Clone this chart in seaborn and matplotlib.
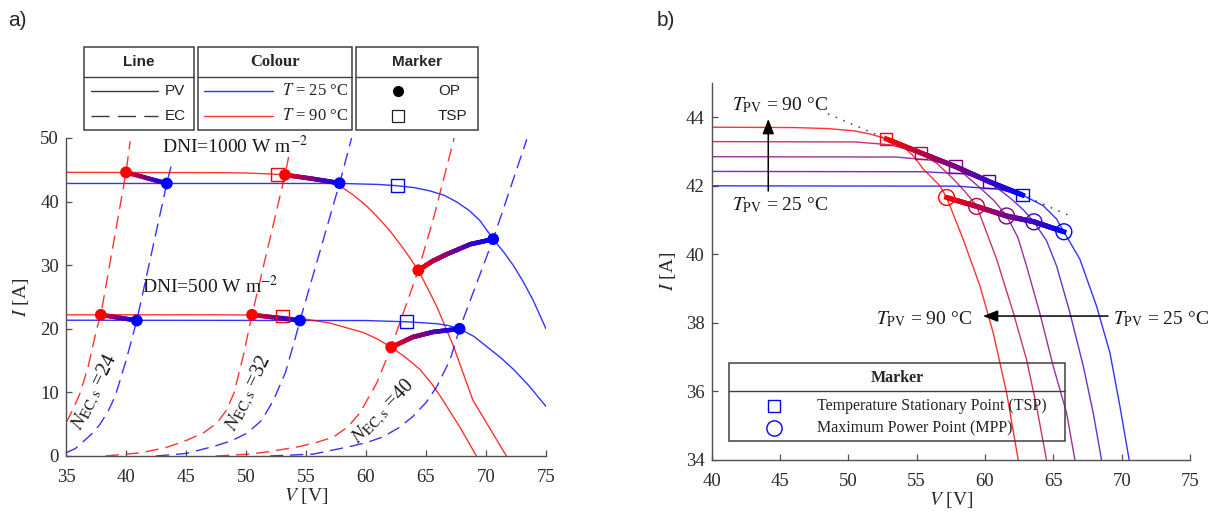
import numpy as np
import matplotlib
matplotlib.use("Agg")
import matplotlib.pyplot as plt
import seaborn as sns
from matplotlib.collections import LineCollection
from matplotlib.patches import Rectangle
from matplotlib.lines import Line2D

# ------------------------------------------------------------------ data (panel a)
# PV I-V curves, DNI = 1000 W m-2
pv1000_25_V = [35, 58, 61, 62.6, 64.0, 65.3, 66.5, 67.6, 68.6, 69.5, 70.6, 71.5, 72.3, 73.1, 73.9, 75]
pv1000_25_I = [42.85, 42.85, 42.7, 42.5, 42.2, 41.7, 41.0, 39.9, 38.6, 37.0, 34.1, 32.0, 29.9, 27.4, 24.6, 20.0]
pv1000_90_V = [35, 48, 50, 52, 53.25, 54.4, 55.5, 56.7, 57.8, 58.9, 60.06, 61.0, 62.0, 63.2, 64.36, 65.1, 65.9, 67.3, 68.9, 70.3, 71.7]
pv1000_90_I = [44.6, 44.55, 44.5, 44.35, 44.2, 43.95, 43.6, 43.1, 42.5, 41.1, 39.3, 37.5, 35.4, 32.4, 29.2, 26.5, 23.5, 17.2, 8.8, 4.4, 0.0]
# PV I-V curves, DNI = 500 W m-2
pv500_25_V = [35, 60, 63.4, 65.9, 66.9, 67.8, 69.0, 70.06, 71.2, 72.3, 73.6, 75]
pv500_25_I = [21.35, 21.3, 21.1, 20.8, 20.5, 20.0, 18.8, 17.2, 15.5, 13.6, 11.0, 7.8]
pv500_90_V = [35, 48, 50.5, 52.8, 55.0, 57.0, 59.8, 61.0, 62.1, 63.3, 64.5, 65.5, 66.4, 67.8, 69.2]
pv500_90_I = [22.2, 22.2, 22.15, 22.0, 21.5, 20.9, 19.4, 18.35, 17.1, 15.5, 13.6, 11.3, 8.8, 4.6, 0.0]

# EC polarisation curves (N_EC,s = 24, 32, 40)
ec24_25_V = [35, 35.8, 36.4, 37.1, 37.8, 38.5, 39.1, 40.0, 40.9, 43.4, 43.75]
ec24_25_I = [0.5, 1.2, 2.2, 3.4, 4.9, 7.0, 9.4, 15.0, 21.3, 42.85, 45.5]
ec24_90_V = [35, 35.6, 36.2, 36.85, 37.55, 37.9, 40.0, 40.35]
ec24_90_I = [5.2, 7.4, 10.0, 14.1, 19.9, 22.2, 44.6, 49.5]
ec32_25_V = [42.5, 45.0, 47.3, 48.8, 50.1, 51.3, 52.3, 53.3, 54.1, 54.5, 57.8, 58.8]
ec32_25_I = [0.0, 0.4, 1.5, 2.4, 3.6, 5.6, 8.8, 13.2, 18.5, 21.3, 42.9, 50.0]
ec32_90_V = [38.3, 41.2, 43.3, 45.1, 46.5, 47.6, 48.4, 49.0, 49.8, 50.5, 53.25, 53.55]
ec32_90_I = [0.0, 0.5, 1.3, 2.5, 3.7, 5.2, 7.3, 9.9, 16.0, 22.2, 44.2, 47.0]
ec40_25_V = [52.0, 55.6, 58.7, 60.2, 61.4, 62.7, 63.9, 65.0, 65.9, 67.0, 67.8, 70.6, 73.4]
ec40_25_I = [0.0, 0.3, 1.5, 2.2, 3.0, 4.4, 6.2, 8.4, 10.9, 15.1, 20.0, 34.1, 49.8]
ec40_90_V = [47.5, 50.3, 52.0, 54.5, 56.0, 57.3, 58.5, 59.5, 60.9, 62.1, 64.36, 65.6, 67.35]
ec40_90_I = [0.0, 0.3, 0.7, 1.5, 2.2, 3.0, 4.6, 6.8, 11.5, 17.1, 29.2, 37.2, 50.0]

# operating points (OP)
op1000_90_V = [40.0, 53.25, 64.36]
op1000_90_I = [44.6, 44.2, 29.2]
op1000_25_V = [43.4, 57.8, 70.6]
op1000_25_I = [42.85, 42.9, 34.1]
op500_90_V = [37.9, 50.5, 62.1]
op500_90_I = [22.2, 22.2, 17.1]
op500_25_V = [40.9, 54.5, 67.8]
op500_25_I = [21.3, 21.3, 20.0]
# temperature stationary points (TSP)
tspA_90_V = [52.6, 53.05]
tspA_90_I = [44.2, 22.0]
tspA_25_V = [62.6, 63.4]
tspA_25_I = [42.5, 21.1]
# OP trajectories from 90 degC to 25 degC
trajA_V = [[40.0, 43.4], [53.25, 55.5, 57.8], [64.36, 65.5, 66.7, 68.7, 70.6],
           [37.9, 40.9], [50.5, 54.5], [62.1, 63.9, 65.6, 67.8]]
trajA_I = [[44.6, 42.85], [44.2, 43.6, 42.9], [29.2, 30.6, 31.7, 33.3, 34.1],
           [22.2, 21.3], [22.2, 21.3], [17.1, 18.7, 19.5, 20.0]]

# ------------------------------------------------------------------ data (panel b)
T_pv = [25, 41.25, 57.5, 73.75, 90]
b_V = [
    [40, 58, 61, 62.75, 64.26, 65.24, 65.77, 66.94, 68.16, 69.14, 69.87, 70.55],
    [40, 55.5, 58.5, 60.31, 61.95, 62.8, 63.58, 64.5, 65.24, 66.21, 67.19, 67.92, 68.53],
    [40, 53.5, 56, 57.85, 59.75, 60.7, 61.58, 62.4, 63.04, 64.0, 64.99, 65.97, 66.58],
    [40, 50.5, 53, 55.31, 56.5, 57.68, 58.5, 59.38, 60.85, 62.07, 63.04, 63.77, 64.5],
    [40, 46, 48.5, 50.5, 51.7, 52.77, 53.77, 54.7, 55.48, 56.7, 57.19, 58.4, 59.63, 60.6, 61.58, 62.43],
]
b_I = [
    [42.0, 41.99, 41.9, 41.73, 41.42, 41.03, 40.66, 39.86, 38.49, 37.13, 35.57, 34.0],
    [42.42, 42.41, 42.35, 42.12, 41.61, 41.3, 40.95, 40.4, 39.66, 38.3, 36.74, 35.37, 34.0],
    [42.85, 42.84, 42.75, 42.56, 41.9, 41.55, 41.12, 40.5, 39.66, 38.3, 36.74, 35.37, 34.0],
    [43.29, 43.28, 43.2, 42.96, 42.65, 42.2, 41.85, 41.42, 39.86, 38.3, 36.93, 35.57, 34.0],
    [43.71, 43.70, 43.67, 43.6, 43.5, 43.37, 43.22, 42.9, 42.49, 42.0, 41.66, 40.44, 39.08, 37.71, 35.96, 34.0],
]
tspB_V = [62.75, 60.31, 57.85, 55.31, 52.77]
tspB_I = [41.73, 42.12, 42.56, 42.96, 43.37]
mppB_V = [65.77, 63.58, 61.58, 59.38, 57.19]
mppB_I = [40.66, 40.95, 41.12, 41.40, 41.66]
envB_V = [48.5, 52.77, 55.31, 57.85, 60.31, 62.75, 66.45]
envB_I = [44.1, 43.37, 42.96, 42.56, 42.12, 41.73, 41.08]

# ------------------------------------------------------------------ style
sns.set_style("ticks")
plt.rcParams["font.family"] = ["Liberation Serif", "DejaVu Serif"]
plt.rcParams["mathtext.fontset"] = "stix"

W, H = 1224, 513
RED = (1.0, 0.0, 0.0)
BLUE = (0.0, 0.0, 1.0)
AX_C = "#505050"
TXT_C = "#2a2a2a"
THIN_A = 0.8


def mix(t):
    """colour for temperature fraction t (0 = 25 degC blue, 1 = 90 degC red)"""
    return (t, 0.0, 1.0 - t)


def fx(x):
    return x / W


def fy(y):
    return 1 - y / H


def gradient(ax, xs, ys, c0, c1, lw, z=4, n=12):
    xs = np.asarray(xs, float)
    ys = np.asarray(ys, float)
    segs, cols = [], []
    d = np.r_[0, np.cumsum(np.hypot(np.diff(xs), np.diff(ys)))]
    d = d / d[-1]
    for i in range(len(xs) - 1):
        for k in range(n):
            a, b = k / n, (k + 1) / n
            p0 = (xs[i] + a * (xs[i + 1] - xs[i]), ys[i] + a * (ys[i + 1] - ys[i]))
            p1 = (xs[i] + b * (xs[i + 1] - xs[i]), ys[i] + b * (ys[i + 1] - ys[i]))
            f = d[i] + (a + b) / 2 * (d[i + 1] - d[i])
            segs.append([p0, p1])
            cols.append(tuple(np.array(c0) * (1 - f) + np.array(c1) * f))
    lc = LineCollection(segs, colors=cols, linewidths=lw, capstyle="projecting",
                        joinstyle="miter", zorder=z)
    ax.add_collection(lc)


def style_axes(ax):
    for s in ["top", "right"]:
        ax.spines[s].set_visible(False)
    for s in ["left", "bottom"]:
        ax.spines[s].set_color(AX_C)
        ax.spines[s].set_linewidth(1.0)
    ax.tick_params(direction="in", length=4, width=0.9, colors=AX_C,
                   labelcolor=TXT_C, labelsize=13.5)
    ax.tick_params(axis="x", pad=9)
    ax.tick_params(axis="y", pad=5)


fig = plt.figure(figsize=(12.24, 5.13), dpi=100)
axA = fig.add_axes([fx(66), fy(456), 480 / W, 318 / H])
axB = fig.add_axes([fx(711.7), fy(460), 478.3 / W, 377 / H])

# ------------------------------------------------------------------ panel a
pv_sets = [(pv1000_25_V, pv1000_25_I, BLUE), (pv1000_90_V, pv1000_90_I, RED),
           (pv500_25_V, pv500_25_I, BLUE), (pv500_90_V, pv500_90_I, RED)]
for v, i, c in pv_sets:
    sns.lineplot(x=v, y=i, ax=axA, color=c, lw=1.0, alpha=THIN_A, sort=False, estimator=None, zorder=2)

ec_sets = [(ec24_25_V, ec24_25_I, BLUE), (ec24_90_V, ec24_90_I, RED),
           (ec32_25_V, ec32_25_I, BLUE), (ec32_90_V, ec32_90_I, RED),
           (ec40_25_V, ec40_25_I, BLUE), (ec40_90_V, ec40_90_I, RED)]
for v, i, c in ec_sets:
    sns.lineplot(x=v, y=i, ax=axA, color=c, lw=1.0, alpha=THIN_A, sort=False, estimator=None, zorder=2)
    axA.lines[-1].set_dashes([9.5, 5])

for v, i in zip(trajA_V, trajA_I):
    gradient(axA, v, i, RED, BLUE, lw=3.2)

for v, i, c in [(op1000_90_V, op1000_90_I, RED), (op500_90_V, op500_90_I, RED),
                (op1000_25_V, op1000_25_I, BLUE), (op500_25_V, op500_25_I, BLUE)]:
    sns.scatterplot(x=v, y=i, ax=axA, color=c, s=72, edgecolor="none", zorder=6, legend=False)
axA.scatter(tspA_90_V, tspA_90_I, marker="s", s=85, facecolors="none", edgecolors=[RED], linewidths=1.0, zorder=5)
axA.scatter(tspA_25_V, tspA_25_I, marker="s", s=85, facecolors="none", edgecolors=[BLUE], linewidths=1.0, zorder=5)

axA.set_xlim(35, 75)
axA.set_ylim(0, 50)
axA.set_xticks(range(35, 80, 5))
axA.set_yticks(range(0, 60, 10))
style_axes(axA)
axA.set_xlabel(r"$V$ [V]", fontsize=14, color=TXT_C, labelpad=0)
axA.set_ylabel(r"$I$ [A]", fontsize=14, color=TXT_C, labelpad=7)

axA.text(43.0, 48.8, r"DNI=1000 W m$^{-2}$", fontsize=14, ha="left", va="center", color="#1a1a1a")
axA.text(41.3, 26.7, r"DNI=500 W m$^{-2}$", fontsize=14, ha="left", va="center", color="#1a1a1a")
axA.text(37.42, 10.1, r"$N_{\mathrm{EC,s}}$ =24", fontsize=14.5, rotation=64, ha="center", va="center",
         rotation_mode="anchor", color="#1a1a1a")
axA.text(50.2, 9.9, r"$N_{\mathrm{EC,s}}$ =32", fontsize=14.5, rotation=64, ha="center", va="center",
         rotation_mode="anchor", color="#1a1a1a")
axA.text(61.44, 7.0, r"$N_{\mathrm{EC,s}}$ =40", fontsize=14.5, rotation=46, ha="center", va="center",
         rotation_mode="anchor", color="#1a1a1a")

# ------------------------------------------------------------------ panel b
n = len(T_pv)
fr = [(t - T_pv[0]) / (T_pv[-1] - T_pv[0]) for t in T_pv]
for k in range(n):
    sns.lineplot(x=b_V[k], y=b_I[k], ax=axB, color=mix(fr[k]), lw=1.0, alpha=THIN_A, sort=False,
                 estimator=None, zorder=2)
sns.lineplot(x=envB_V, y=envB_I, ax=axB, color="#555555", lw=1.2, sort=False, estimator=None, zorder=1)
axB.lines[-1].set_dashes([1, 4])
gradient(axB, tspB_V[::-1], tspB_I[::-1], RED, BLUE, lw=3.6)
gradient(axB, mppB_V[::-1], mppB_I[::-1], RED, BLUE, lw=3.6)
cols = [mix(f) for f in fr]
axB.scatter(tspB_V, tspB_I, marker="s", s=80, facecolors="none", edgecolors=cols, linewidths=1.0, zorder=5)
axB.scatter(mppB_V, mppB_I, marker="o", s=130, facecolors="none", edgecolors=cols, linewidths=1.0, zorder=5)

axB.set_xlim(40, 75)
axB.set_ylim(34, 45)
axB.set_xticks(range(40, 80, 5))
axB.set_yticks(range(34, 46, 2))
style_axes(axB)
axB.set_xlabel(r"$V$ [V]", fontsize=14, color=TXT_C, labelpad=0)
axB.set_ylabel(r"$I$ [A]", fontsize=14, color=TXT_C, labelpad=6)

arrow = dict(arrowstyle="-|>,head_width=0.35,head_length=0.9", color="black", lw=1.1, shrinkA=0, shrinkB=0)
axB.annotate("", xy=(44.14, 43.95), xytext=(44.14, 41.85), arrowprops=arrow)
axB.annotate("", xy=(59.85, 38.2), xytext=(69.0, 38.2), arrowprops=arrow)
tkw = dict(fontsize=14, color="#1a1a1a", va="center")
axB.text(41.46, 44.35, r"$T_{\mathrm{PV}}$ = 90 °C", ha="left", **tkw)
axB.text(41.46, 41.45, r"$T_{\mathrm{PV}}$ = 25 °C", ha="left", **tkw)
axB.text(59.04, 38.12, r"$T_{\mathrm{PV}}$ = 90 °C", ha="right", **tkw)
axB.text(69.39, 38.12, r"$T_{\mathrm{PV}}$ = 25 °C", ha="left", clip_on=False, **tkw)

# ------------------------------------------------------------------ legends (figure pixel layout)
BOX_C = "#404040"


def box(x0, y0, x1, y1, ysep):
    fig.add_artist(Rectangle((fx(x0), fy(y1)), fx(x1) - fx(x0), fy(y0) - fy(y1),
                             transform=fig.transFigure, fill=False, ec=BOX_C, lw=1.1, fc="white"))
    fig.add_artist(Line2D([fx(x0), fx(x1)], [fy(ysep)] * 2, transform=fig.transFigure, color=BOX_C, lw=1.0))


sans = ["Liberation Sans", "DejaVu Sans"]
# panel a: three tables
box(84, 47, 194, 130, 77.3)
box(197.7, 47, 352, 130, 77.3)
box(356, 47, 478.3, 130, 77.3)
fig.text(fx(139), fy(62.5), "Line", family=sans, weight="bold", fontsize=11, ha="center", va="center")
fig.text(fx(275), fy(62.5), "Colour", weight="bold", fontsize=12, ha="center", va="center")
fig.text(fx(417), fy(62.5), "Marker", family=sans, weight="bold", fontsize=11, ha="center", va="center")

fig.add_artist(Line2D([fx(91), fx(158)], [fy(91)] * 2, transform=fig.transFigure, color="#3c3c3c", lw=1.0))
l_ec = Line2D([fx(91), fx(158)], [fy(116)] * 2, transform=fig.transFigure, color="#3c3c3c", lw=1.0)
l_ec.set_dashes([13, 6])
fig.add_artist(l_ec)
fig.text(fx(165), fy(91), "PV", family=sans, fontsize=11, ha="left", va="center", color="#222222")
fig.text(fx(165), fy(116), "EC", family=sans, fontsize=11, ha="left", va="center", color="#222222")

fig.add_artist(Line2D([fx(204), fx(273)], [fy(91)] * 2, transform=fig.transFigure, color=BLUE, lw=1.0,
                      alpha=THIN_A))
fig.add_artist(Line2D([fx(204), fx(273)], [fy(116)] * 2, transform=fig.transFigure, color=RED, lw=1.0,
                      alpha=THIN_A))
fig.text(fx(282), fy(91), r"$T$ = 25 °C", fontsize=12, ha="left", va="center", color="#222222")
fig.text(fx(282), fy(116), r"$T$ = 90 °C", fontsize=12, ha="left", va="center", color="#222222")

fig.add_artist(Line2D([fx(398)], [fy(91)], transform=fig.transFigure, marker="o", ms=7, color="black", lw=0))
fig.add_artist(Line2D([fx(398)], [fy(116)], transform=fig.transFigure, marker="s", ms=8.5, mfc="white",
                      mec="#222222", mew=0.9, lw=0))
fig.text(fx(438), fy(91), "OP", family=sans, fontsize=11, ha="left", va="center", color="#222222")
fig.text(fx(438), fy(116), "TSP", family=sans, fontsize=11, ha="left", va="center", color="#222222")

# panel b: marker table
box(729.3, 363.3, 1065, 441, 391)
fig.text(fx(897), fy(377.5), "Marker", weight="bold", fontsize=11.5, ha="center", va="center")
fig.add_artist(Line2D([fx(774.3)], [fy(405.7)], transform=fig.transFigure, marker="s", ms=8.5, mfc="white",
                      mec=BLUE, mew=1.0, lw=0))
fig.add_artist(Line2D([fx(774.3)], [fy(428.3)], transform=fig.transFigure, marker="o", ms=11, mfc="white",
                      mec=BLUE, mew=1.0, lw=0))
fig.text(fx(816.7), fy(405.7), "Temperature Stationary Point (TSP)", fontsize=11.5, ha="left", va="center",
         color="#222222")
fig.text(fx(816.7), fy(428.3), "Maximum Power Point (MPP)", fontsize=11.5, ha="left", va="center",
         color="#222222")

fig.text(fx(8), fy(20), "a)", family=sans, fontsize=15, ha="left", va="center")
fig.text(fx(657), fy(20), "b)", family=sans, fontsize=15, ha="left", va="center")

fig.savefig("out.png", dpi=100)
